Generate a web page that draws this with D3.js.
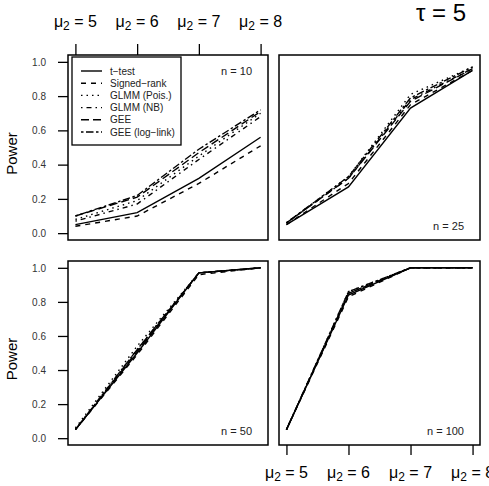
<!DOCTYPE html>
<html><head><meta charset="utf-8">
<script src="https://cdn.jsdelivr.net/npm/d3@7"></script>
<style>body{margin:0;background:#fff}svg{display:block;font-family:"Liberation Sans",Arial,Helvetica,sans-serif}</style>
</head><body>
<script>
const muValues = [5, 6, 7, 8];
const yTicks = [0, 0.2, 0.4, 0.6, 0.8, 1.0];
const methods = ["t\u2212test", "Signed\u2212rank", "GLMM (Pois.)", "GLMM (NB)", "GEE", "GEE (log\u2212link)"];
const sampleSizes = ["n = 10", "n = 25", "n = 50", "n = 100"];
// power values: [panel][method][mu]
const power_n10 = [
  [0.05, 0.12, 0.32, 0.56],
  [0.04, 0.10, 0.29, 0.51],
  [0.08, 0.19, 0.45, 0.70],
  [0.07, 0.17, 0.43, 0.68],
  [0.10, 0.21, 0.47, 0.71],
  [0.10, 0.22, 0.49, 0.72]
];
const power_n25 = [
  [0.05, 0.27, 0.73, 0.95],
  [0.05, 0.29, 0.75, 0.95],
  [0.06, 0.33, 0.81, 0.97],
  [0.06, 0.32, 0.78, 0.96],
  [0.06, 0.32, 0.77, 0.96],
  [0.06, 0.33, 0.79, 0.97]
];
const power_n50 = [
  [0.05, 0.50, 0.97, 1.00],
  [0.05, 0.49, 0.96, 1.00],
  [0.06, 0.54, 0.97, 1.00],
  [0.05, 0.52, 0.97, 1.00],
  [0.05, 0.51, 0.97, 1.00],
  [0.05, 0.52, 0.97, 1.00]
];
const power_n100 = [
  [0.05, 0.84, 1.00, 1.00],
  [0.05, 0.83, 1.00, 1.00],
  [0.05, 0.86, 1.00, 1.00],
  [0.05, 0.85, 1.00, 1.00],
  [0.05, 0.85, 1.00, 1.00],
  [0.05, 0.86, 1.00, 1.00]
];
const tauLabel = "5";

const W = 489, H = 486;
const svg = d3.select("body").append("svg").attr("width", W).attr("height", H);
const dashes = [null, "5,5", "1.5,4", "1.5,4,5,4", "8,4", "2.5,2.5,7.5,2.5"];
const panels = [
  {x0: 68, x1: 268, y0: 55, y1: 240, data: power_n10, label: sampleSizes[0], left: true, top: true, bottom: false, labelPos: "top"},
  {x0: 279, x1: 480, y0: 55, y1: 240, data: power_n25, label: sampleSizes[1], left: false, top: false, bottom: false, labelPos: "bottom"},
  {x0: 68, x1: 268, y0: 261, y1: 445, data: power_n50, label: sampleSizes[2], left: true, top: false, bottom: false, labelPos: "bottom"},
  {x0: 279, x1: 480, y0: 261, y1: 445, data: power_n100, label: sampleSizes[3], left: false, top: false, bottom: true, labelPos: "bottom"}
];

function muLabel(sel, v) {
  const t = sel.append("text").attr("text-anchor", "middle").attr("font-size", 16).attr("fill", "#000");
  t.append("tspan").text("\u03bc");
  t.append("tspan").attr("font-size", 12).attr("dy", 3).text("2");
  t.append("tspan").attr("dy", -3).text(" = " + v);
  return t;
}

panels.forEach(p => {
  const x = d3.scaleLinear().domain([5 - 0.12, 8 + 0.12]).range([p.x0, p.x1]);
  const y = d3.scaleLinear().domain([-0.04, 1.04]).range([p.y1, p.y0]);
  const g = svg.append("g");
  const line = d3.line().x((d, i) => x(muValues[i])).y(d => y(d));
  p.data.forEach((s, k) => {
    g.append("path").attr("d", line(s)).attr("fill", "none").attr("stroke", "#000")
      .attr("stroke-width", 1.4).attr("stroke-dasharray", dashes[k]);
  });
  g.append("rect").attr("x", p.x0).attr("y", p.y0).attr("width", p.x1 - p.x0).attr("height", p.y1 - p.y0)
    .attr("fill", "none").attr("stroke", "#000").attr("stroke-width", 1.5);
  if (p.left) {
    const ax = svg.append("g").attr("transform", `translate(${p.x0},0)`)
      .call(d3.axisLeft(y).tickValues(yTicks).tickFormat(d3.format(".1f")).tickSize(10).tickSizeOuter(0).tickPadding(12));
    ax.select(".domain").remove();
    ax.selectAll("line").attr("stroke-width", 1.3);
    ax.selectAll("text").attr("font-size", 10).attr("fill", "#333").attr("font-family", "Liberation Sans, Arial, sans-serif");
    svg.append("text").attr("transform", `translate(17,${(p.y0 + p.y1) / 2 + 6}) rotate(-90)`)
      .attr("text-anchor", "middle").attr("font-size", 15).text("Power");
  }
  if (p.top) {
    const ax = svg.append("g").attr("transform", `translate(0,${p.y0})`)
      .call(d3.axisTop(x).tickValues(muValues).tickFormat("").tickSize(11).tickSizeOuter(0));
    ax.select(".domain").remove();
    ax.selectAll("line").attr("stroke-width", 1.3);
    muValues.forEach(v => muLabel(svg, v).attr("x", x(v)).attr("y", 27));
  }
  if (p.bottom) {
    const ax = svg.append("g").attr("transform", `translate(0,${p.y1})`)
      .call(d3.axisBottom(x).tickValues(muValues).tickFormat("").tickSize(10).tickSizeOuter(0));
    ax.select(".domain").remove();
    ax.selectAll("line").attr("stroke-width", 1.3);
    muValues.forEach(v => muLabel(svg, v).attr("x", x(v)).attr("y", 478));
  }
  const ly = p.labelPos === "top" ? p.y0 + 20 : p.y1 - 10;
  svg.append("text").attr("x", p.x1 - 16).attr("y", ly).attr("text-anchor", "end")
    .attr("font-size", 11).attr("fill", "#222").text(p.label);
  if (p.top) {
    const lg = svg.append("g");
    lg.append("rect").attr("x", 72).attr("y", 57).attr("width", 109).attr("height", 88)
      .attr("fill", "#fff").attr("stroke", "#000").attr("stroke-width", 1.3);
    methods.forEach((m, k) => {
      const yy = 71 + k * 12.2;
      lg.append("line").attr("x1", 81).attr("x2", 102).attr("y1", yy).attr("y2", yy)
        .attr("stroke", "#000").attr("stroke-width", 1.4).attr("stroke-dasharray", dashes[k]);
      lg.append("text").attr("x", 110).attr("y", yy + 3.5).attr("font-size", 10).attr("fill", "#222").text(m);
    });
  }
});

const tau = svg.append("text").attr("x", 441).attr("y", 21).attr("text-anchor", "middle").attr("font-size", 24);
tau.append("tspan").text("\u03c4 = " + tauLabel);
</script>
</body></html>
